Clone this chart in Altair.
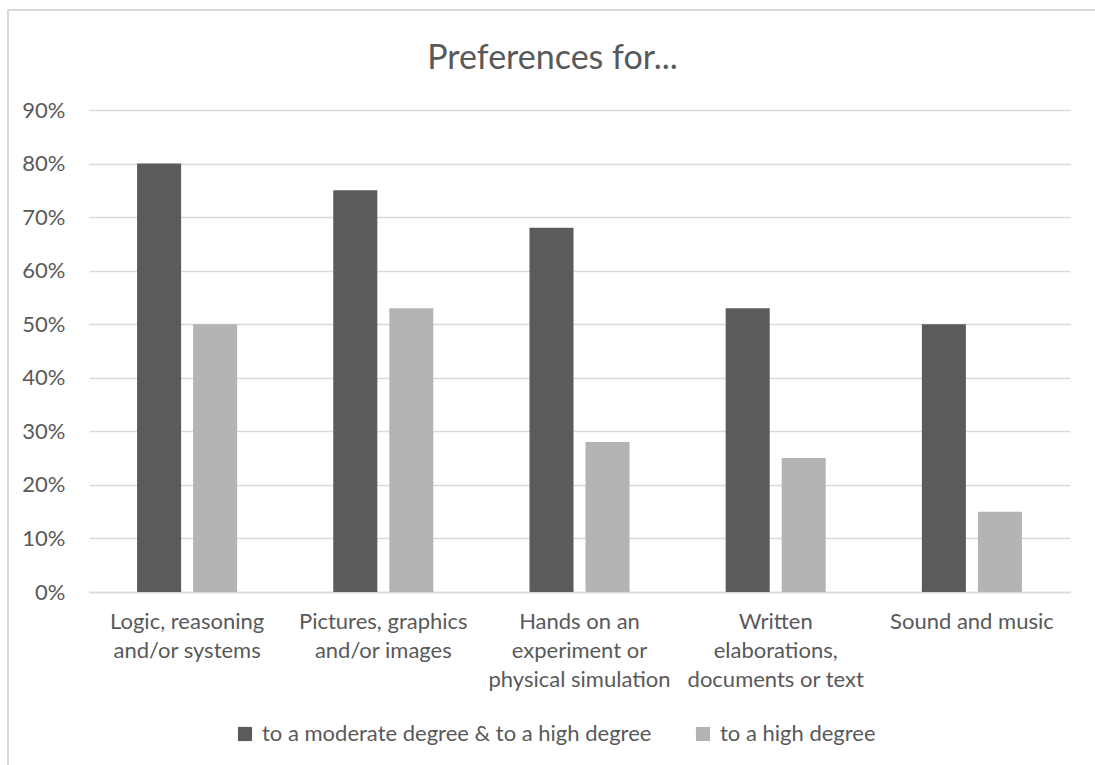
import altair as alt
import pandas as pd

categories = [
    "Logic, reasoning\nand/or systems",
    "Pictures, graphics\nand/or images",
    "Hands on an\nexperiment or\nphysical simulation",
    "Written\nelaborations,\ndocuments or text",
    "Sound and music",
]
series = ["to a moderate degree & to a high degree", "to a high degree"]
moderate_high = [0.80, 0.75, 0.68, 0.53, 0.50]
high = [0.50, 0.53, 0.28, 0.25, 0.15]
colors = ["#5b5b5b", "#b4b4b4"]

rows = []
for c, a, b in zip(categories, moderate_high, high):
    rows.append({"cat": c, "series": series[0], "value": a})
    rows.append({"cat": c, "series": series[1], "value": b})
df = pd.DataFrame(rows)

FONT = "Lato"
TXT = "#595959"
GRID = "#d9d9d9"
FS = 22

bars = alt.Chart(df).mark_bar().encode(
    x=alt.X("cat:N", sort=categories, title=None,
            scale=alt.Scale(paddingInner=0.49, paddingOuter=0.245),
            axis=alt.Axis(labelExpr="split(datum.label, '\\n')", labelAngle=0,
                          labelFontSize=FS, labelFont=FONT, labelColor=TXT,
                          labelLineHeight=29, labelPadding=19, ticks=False,
                          domainColor=GRID, domainWidth=1.5, labelLimit=300,
                          labelBaseline="top")),
    xOffset=alt.XOffset("series:N", sort=series,
                        scale=alt.Scale(paddingInner=0.214, paddingOuter=0)),
    y=alt.Y("value:Q", title=None,
            scale=alt.Scale(domain=[0, 0.9]),
            axis=alt.Axis(format=".0%", values=[i / 10 for i in range(10)],
                          labelFontSize=FS, labelFont=FONT, labelColor=TXT,
                          labelPadding=24, ticks=False, domain=False,
                          gridColor=GRID, gridWidth=1.5)),
    color=alt.Color("series:N", sort=series,
                    scale=alt.Scale(domain=series, range=colors),
                    legend=alt.Legend(title=None, orient="none", direction="horizontal",
                                      legendX=145, legendY=131 + 482,
                                      symbolType="square", symbolSize=200,
                                      symbolStrokeWidth=0, symbolOpacity=1,
                                      labelFontSize=FS, labelFont=FONT, labelColor=TXT,
                                      labelLimit=600, columnPadding=40, labelOffset=6)),
)

border_top = alt.Chart(df).mark_rule(color=GRID, strokeWidth=2, clip=False).encode(
    x=alt.value(-81), x2=alt.value(1010), y=alt.value(-100))
border_left = alt.Chart(df).mark_rule(color=GRID, strokeWidth=2, clip=False).encode(
    x=alt.value(-81), y=alt.value(-100), y2=alt.value(660))

chart = alt.layer(border_top, border_left, bars).properties(
    width=981, height=482,
    padding={"left": 89, "top": 110, "right": 25, "bottom": 173},
    autosize=alt.AutoSizeParams(type="none"),
    title=alt.TitleParams("Preferences for...", fontSize=34, font=FONT, color=TXT,
                          fontWeight="normal", anchor="middle", offset=28,
                          baseline="alphabetic", dy=122, dx=-27),
).configure(background="white", view=alt.ViewConfig(strokeWidth=0, stroke="transparent"))

chart.save("out.html", embed_options={"renderer": "svg", "actions": False})
